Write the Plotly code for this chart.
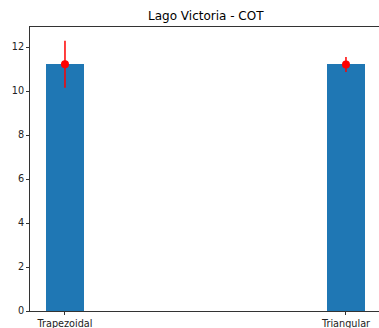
import plotly.graph_objects as go

# COT per channel shape
categories = ["Trapezoidal", "Triangular"]
means = [11.22, 11.21]
errors = [1.07, 0.34]
y_ticks = [0, 2, 4, 6, 8, 10, 12]

positions = list(range(len(categories)))
bar_width = 0.135

fig = go.Figure()
fig.add_trace(go.Bar(
    x=positions, y=means, width=bar_width,
    marker=dict(color="#1f77b4", line=dict(width=0)),
    showlegend=False, hoverinfo="skip",
))
fig.add_trace(go.Scatter(
    x=positions, y=means, mode="markers",
    marker=dict(color="red", size=8),
    error_y=dict(type="data", array=errors, color="red", thickness=1.5, width=0),
    showlegend=False,
))

font = "DejaVu Sans"
fig.update_layout(
    width=379, height=328,
    margin=dict(l=30, r=0, t=27, b=17),
    plot_bgcolor="white", paper_bgcolor="white",
    font=dict(family=font, size=9.7, color="#222"),
    title=dict(text="Lago Victoria - COT", x=0.543, xanchor="center",
               y=1 - 16 / 328, yanchor="middle",
               font=dict(family=font, size=12, color="black")),
    bargap=0,
)
fig.update_xaxes(
    range=[-0.1245, 1.1175], tickvals=positions, ticktext=categories,
    showgrid=False, zeroline=False, showline=True, linecolor="#333",
    linewidth=1, mirror=True, ticks="outside", ticklen=3, tickcolor="#333",
)
fig.update_yaxes(
    range=[0, 12.91], tickvals=y_ticks,
    showgrid=False, zeroline=False, showline=True, linecolor="#333",
    linewidth=1, ticks="outside", ticklen=3, tickcolor="#333",
)

fig.write_html("out.html")
